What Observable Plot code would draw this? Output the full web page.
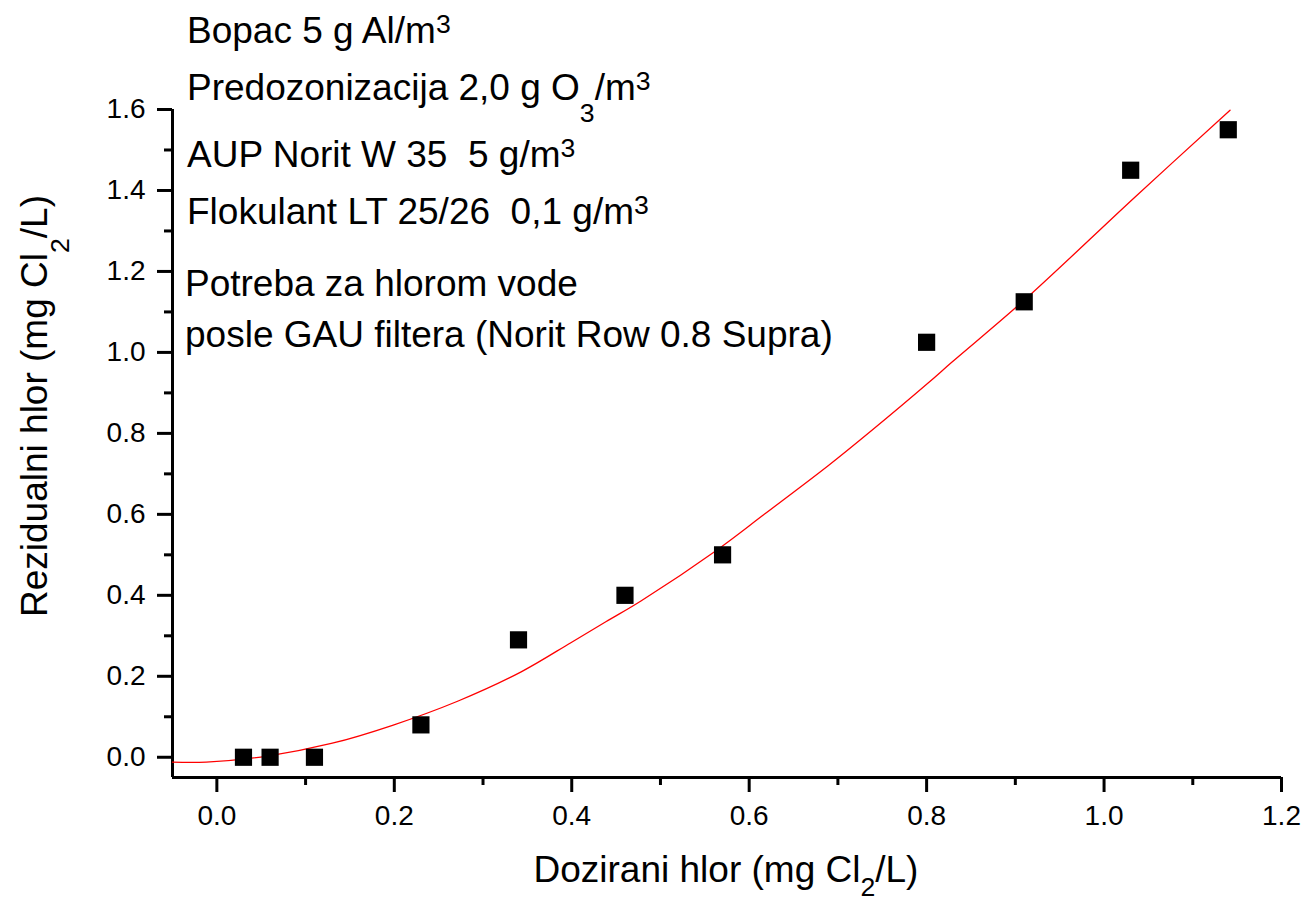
<!DOCTYPE html>
<html>
<head>
<meta charset="utf-8">
<script src="https://cdn.jsdelivr.net/npm/d3@7"></script>
<script src="https://cdn.jsdelivr.net/npm/@observablehq/plot@0.6"></script>
<style>
  html, body { margin: 0; padding: 0; background: white; }
  svg { display: block; }
  svg g[aria-label="x-axis tick label"], svg g[aria-label="y-axis tick label"] { font-size: 28px; }
</style>
</head>
<body>
<div id="chart"></div>
<script>
// Measured points: dosed chlorine vs residual chlorine
const dosed    = [0.03, 0.06, 0.11, 0.23, 0.34, 0.46, 0.57, 0.80, 0.91, 1.03, 1.14];
const residual = [0.00, 0.00, 0.00, 0.08, 0.29, 0.40, 0.50, 1.025, 1.125, 1.45, 1.55];

// Fitted curve
const fitX = [-0.05, -0.012, 0.057, 0.129, 0.198, 0.272, 0.343, 0.399, 0.441, 0.478, 0.565, 0.617, 0.689, 0.738, 0.802, 0.828, 0.911, 1.035, 1.142];
const fitY = [-0.012, -0.012, 0.003, 0.034, 0.079, 0.139, 0.211, 0.283, 0.338, 0.386, 0.514, 0.600, 0.720, 0.807, 0.925, 0.975, 1.131, 1.384, 1.598];

const xMajor = [0.0, 0.2, 0.4, 0.6, 0.8, 1.0, 1.2];
const xMinor = [0.1, 0.3, 0.5, 0.7, 0.9, 1.1];
const yMajor = [0.0, 0.2, 0.4, 0.6, 0.8, 1.0, 1.2, 1.4, 1.6];
const yMinor = [0.1, 0.3, 0.5, 0.7, 0.9, 1.1, 1.3, 1.5];

const xTitle = [{t: "Dozirani hlor (mg Cl"}, {t: "2", sub: true}, {t: "/L)"}];
const yTitle = [{t: "Rezidualni hlor (mg Cl"}, {t: "2", sub: true}, {t: "/L)"}];
const notes = [
  [{t: "Bopac 5 g Al/m"}, {t: "3", sup: true}],
  [{t: "Predozonizacija 2,0 g O"}, {t: "3", sub: true}, {t: "/m"}, {t: "3", sup: true}],
  [{t: "AUP Norit W 35  5 g/m"}, {t: "3", sup: true}],
  [{t: "Flokulant LT 25/26  0,1 g/m"}, {t: "3", sup: true}],
  [{t: "Potreba za hlorom vode"}],
  [{t: "posle GAU filtera (Norit Row 0.8 Supra)"}]
];

const points = dosed.map((d, i) => ({dose: d, res: residual[i]}));
const fit = fitX.map((d, i) => ({dose: d, res: fitY[i]}));
const fmt = d3.format(".1f");
const FONT = "'Liberation Sans', Arial, sans-serif";

const plot = Plot.plot({
  width: 1306,
  height: 903,
  marginLeft: 172,
  marginRight: 25,
  marginTop: 109,
  marginBottom: 126,
  x: {domain: [-0.05, 1.2]},
  y: {domain: [-0.05, 1.6]},
  style: {fontFamily: FONT, color: "black", background: "white"},
  marks: [
    Plot.axisX({ticks: xMajor, tickSize: 15, tickPadding: 13, strokeWidth: 3, tickFormat: fmt, label: null, fontSize: 28}),
    Plot.axisX({ticks: xMinor, tickSize: 8, strokeWidth: 3, tickFormat: () => "", label: null}),
    Plot.axisY({ticks: yMajor, tickSize: 15, tickPadding: 12, strokeWidth: 3, tickFormat: fmt, label: null, fontSize: 28}),
    Plot.axisY({ticks: yMinor, tickSize: 8, strokeWidth: 3, tickFormat: () => "", label: null}),
    Plot.ruleY([-0.05], {stroke: "black", strokeWidth: 3}),
    Plot.ruleX([-0.05], {stroke: "black", strokeWidth: 3}),
    Plot.line(fit, {x: "dose", y: "res", stroke: "#ff0000", strokeWidth: 1.3, curve: "catmull-rom"}),
    Plot.dot(points, {x: "dose", y: "res", symbol: "square", r: 9.7, fill: "black", stroke: "none"})
  ]
});

document.getElementById("chart").appendChild(plot);

const svg = d3.select(plot);
function richText(sel, segs, size, subShift = 0.6) {
  let shift = 0;
  segs.forEach(s => {
    let target = 0, fs = size;
    if (s.sub) { target = subShift * size; fs = 0.72 * size; }
    if (s.sup) { target = -0.27 * size; fs = 0.72 * size; }
    sel.append("tspan")
      .attr("dy", target - shift)
      .attr("font-size", fs)
      .text(s.t);
    shift = target;
  });
}

const g = svg.append("g").attr("font-family", FONT).attr("fill", "black").attr("text-anchor", "start");

// X axis title
const xt = g.append("text").attr("x", 726).attr("y", 882).attr("text-anchor", "middle").attr("font-size", 37);
richText(xt, xTitle, 37, 0.38);

// Y axis title
const yt = g.append("text").attr("transform", "translate(47,406) rotate(-90)").attr("text-anchor", "middle").attr("font-size", 37);
richText(yt, yTitle, 37);

// Annotations
const noteX = [187, 187, 187, 187, 185, 185];
const noteY = [43, 100, 167, 224, 296, 347];
notes.forEach((segs, i) => {
  const t = g.append("text").attr("x", noteX[i]).attr("y", noteY[i]).attr("text-anchor", "start").attr("font-size", 37);
  richText(t, segs, 37);
});
</script>
</body>
</html>
